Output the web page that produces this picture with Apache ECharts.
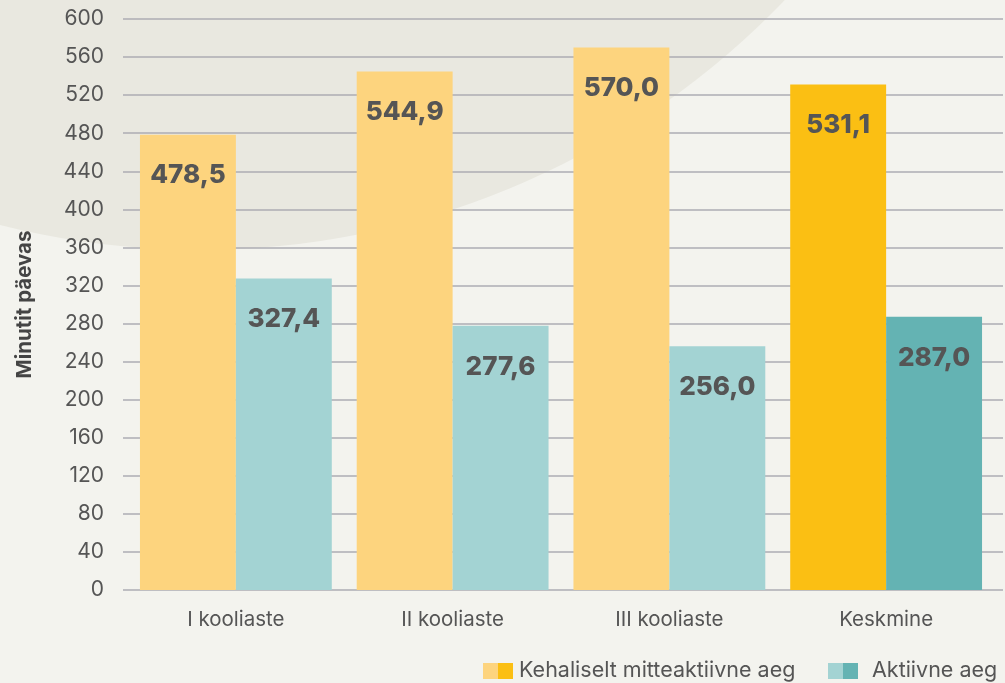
<!DOCTYPE html>
<html><head><meta charset="utf-8">
<script src="https://cdn.jsdelivr.net/npm/echarts@6/dist/echarts.min.js"></script>
<style>html,body{margin:0;padding:0;background:#f3f3ee}#c{width:1005px;height:683px}</style>
</head><body><div id="c"></div>
<script>
const categories = ['I kooliaste', 'II kooliaste', 'III kooliaste', 'Keskmine'];
const inactiveValues = [478.5, 544.9, 570.0, 531.1];
const activeValues = [327.4, 277.6, 256.0, 287.0];
const seriesNames = ['Kehaliselt mitteaktiivne aeg', 'Aktiivne aeg'];
const yAxisName = 'Minutit päevas';

const lightY = '#fdd47e', darkY = '#fbbf13', lightT = '#a3d3d3', darkT = '#64b3b3';
const FONT = 'Inter';

function items(vals, light, dark) {
  return vals.map((v, i) => ({ value: v, itemStyle: { color: i === vals.length - 1 ? dark : light } }));
}
const label = {
  show: true, position: 'insideTop', distance: 28,
  fontFamily: FONT, fontWeight: 800, fontSize: 26, color: '#555555',
  formatter: p => p.value.toFixed(1).replace('.', ',')
};

const chart = echarts.init(document.getElementById('c'));
chart.setOption({
  backgroundColor: '#f3f3ee',
  animation: false,
  textStyle: { fontFamily: FONT },
  grid: [
    { left: 123, right: 2, top: 19, bottom: 93 },
    { left: 127.5, right: 10.5, top: 19, bottom: 93 }
  ],
  xAxis: [
    { gridIndex: 0, type: 'category', data: categories, show: false },
    { gridIndex: 1, type: 'category', data: categories,
      axisLine: { show: false }, axisTick: { show: false },
      axisLabel: { margin: 19, fontSize: 20.5, color: '#555555', fontFamily: FONT } }
  ],
  yAxis: [
    { gridIndex: 0, type: 'value', min: 0, max: 600, interval: 40,
      name: yAxisName, nameLocation: 'middle', nameGap: 88,
      nameTextStyle: { fontSize: 20.5, fontWeight: 'bold', color: '#444444', fontFamily: FONT },
      axisLine: { show: false }, axisTick: { show: false },
      axisLabel: { margin: 19, fontSize: 21, color: '#555555', fontFamily: FONT },
      splitLine: { lineStyle: { color: '#acacb3', width: 1.5 } } },
    { gridIndex: 1, type: 'value', min: 0, max: 600, interval: 40, show: false, splitLine: { show: false } }
  ],
  series: [
    { name: seriesNames[0], type: 'bar', xAxisIndex: 1, yAxisIndex: 1,
      data: items(inactiveValues, lightY, darkY), barGap: '0%', barCategoryGap: '11.5%', label },
    { name: seriesNames[1], type: 'bar', xAxisIndex: 1, yAxisIndex: 1,
      data: items(activeValues, lightT, darkT), barGap: '0%', barCategoryGap: '11.5%', label }
  ],
  graphic: [
    { type: 'circle', z: -10, silent: true, shape: { cx: 200, cy: -559, r: 809 }, style: { fill: '#e9e8e0' } },
    { type: 'rect', shape: { x: 483, y: 663, width: 15, height: 16 }, style: { fill: lightY } },
    { type: 'rect', shape: { x: 498, y: 663, width: 15, height: 16 }, style: { fill: darkY } },
    { type: 'text', x: 519, y: 671, style: { text: seriesNames[0], fontFamily: FONT, fontSize: 21.5, fill: '#555555', textVerticalAlign: 'middle' } },
    { type: 'rect', shape: { x: 828, y: 663, width: 15, height: 16 }, style: { fill: lightT } },
    { type: 'rect', shape: { x: 843, y: 663, width: 15, height: 16 }, style: { fill: darkT } },
    { type: 'text', x: 872, y: 671, style: { text: seriesNames[1], fontFamily: FONT, fontSize: 21.5, fill: '#555555', textVerticalAlign: 'middle' } }
  ]
});
</script></body></html>
